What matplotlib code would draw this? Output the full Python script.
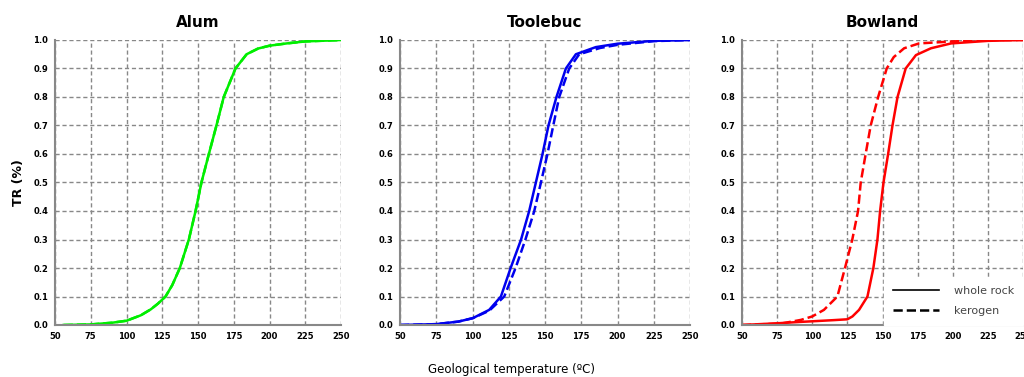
import matplotlib.pyplot as plt
from matplotlib.lines import Line2D

# Alum
alum_T = [56, 75, 90, 100, 110, 117, 122, 127.3, 132, 137.3, 143.6, 148.3, 152.4, 157.6, 162.9, 168, 176.2, 184, 192, 200, 212, 225, 240, 250]
alum_TR = [0.0, 0.002, 0.008, 0.015, 0.034, 0.055, 0.075, 0.1, 0.14, 0.2, 0.3, 0.4, 0.5, 0.6, 0.7, 0.8, 0.9, 0.95, 0.97, 0.98, 0.988, 0.995, 0.998, 1.0]

# Toolebuc
tool_wr_T = [50, 75, 90.3, 100.2, 111.5, 119.6, 126.3, 133.5, 139.1, 143.7, 148.3, 152.4, 157.9, 164.4, 171.3, 185, 200, 225, 250]
tool_wr_TR = [0.0, 0.003, 0.012, 0.024, 0.053, 0.1, 0.2, 0.3, 0.4, 0.5, 0.6, 0.7, 0.8, 0.9, 0.95, 0.975, 0.987, 0.997, 1.0]
tool_ker_T = [50, 75, 90.3, 100.2, 111.5, 121.9, 129.7, 136.5, 142.6, 147.2, 151.7, 155.7, 159.8, 166.7, 173.6, 188, 200, 225, 250]
tool_ker_TR = [0.0, 0.003, 0.012, 0.024, 0.05, 0.1, 0.2, 0.3, 0.4, 0.5, 0.6, 0.7, 0.8, 0.9, 0.95, 0.972, 0.983, 0.996, 1.0]

# Bowland
bow_wr_T = [50, 75, 92, 100, 115, 125, 128.6, 133.3, 139.3, 143.5, 146.4, 148.3, 150.7, 154, 157.1, 160.7, 166.5, 173.8, 184.5, 198.8, 225, 250]
bow_wr_TR = [0.0, 0.006, 0.011, 0.013, 0.017, 0.02, 0.03, 0.053, 0.1, 0.2, 0.3, 0.4, 0.5, 0.6, 0.7, 0.8, 0.9, 0.947, 0.971, 0.988, 0.997, 1.0]
bow_ker_T = [50, 77.8, 92, 100, 108.3, 117.9, 123.3, 128.5, 132.6, 134.5, 138, 141.6, 146.9, 153, 158, 165.4, 176, 200, 225, 250]
bow_ker_TR = [0.0, 0.005, 0.018, 0.03, 0.053, 0.1, 0.2, 0.3, 0.4, 0.5, 0.6, 0.7, 0.8, 0.9, 0.94, 0.971, 0.988, 0.995, 1.0, 1.0]

titles = ["Alum", "Toolebuc", "Bowland"]
xticks = [50, 75, 100, 125, 150, 175, 200, 225, 250]
yticks = [0.0, 0.1, 0.2, 0.3, 0.4, 0.5, 0.6, 0.7, 0.8, 0.9, 1.0]

fig = plt.figure(figsize=(10.24, 3.77), dpi=100)
W, H = 1024, 377
boxes = [(55, 341), (400, 690), (742, 1023)]
top, bottom = 40, 325
axes = []
for (l, r) in boxes:
    ax = fig.add_axes([l / W, 1 - bottom / H, (r - l) / W, (bottom - top) / H])
    axes.append(ax)

series = [
    [(alum_T, alum_TR, '#00EE00', '-'), (alum_T, alum_TR, '#00EE00', '--')],
    [(tool_wr_T, tool_wr_TR, '#0000EE', '-'), (tool_ker_T, tool_ker_TR, '#0000EE', '--')],
    [(bow_wr_T, bow_wr_TR, '#FF0000', '-'), (bow_ker_T, bow_ker_TR, '#FF0000', '--')],
]

for ax, title, ser in zip(axes, titles, series):
    for x, y, c, ls in ser:
        ax.plot(x, y, color=c, linestyle=ls, linewidth=1.8)
    ax.set_xlim(50, 250)
    ax.set_ylim(0, 1.0)
    ax.set_xticks(xticks)
    ax.set_yticks(yticks)
    ax.set_xticklabels([str(t) for t in xticks], fontsize=6, fontweight='bold')
    ax.set_yticklabels([f"{t:.1f}" for t in yticks], fontsize=6, fontweight='bold')
    ax.tick_params(length=0, pad=5)
    ax.grid(True, color='#888888', linestyle=(0, (3, 2)), linewidth=1.0)
    ax.set_axisbelow(True)
    for s in ['top', 'right']:
        ax.spines[s].set_visible(False)
    for s in ['left', 'bottom']:
        ax.spines[s].set_color('#888888')
        ax.spines[s].set_linewidth(1.5)
    ax.set_title(title, fontsize=11, fontweight='bold', pad=9)

axes[0].set_ylabel('TR (%)', fontsize=9, fontweight='bold', labelpad=6)
fig.text(512 / W, 1 - 370 / H, 'Geological temperature (ºC)', ha='center', va='center', fontsize=8.5)

handles = [Line2D([], [], color='black', linestyle='-', linewidth=1.2),
           Line2D([], [], color='black', linestyle='--', linewidth=1.8)]
leg = axes[2].legend(handles, ['whole rock', 'kerogen'], loc='lower right',
                     fontsize=8, frameon=True, fancybox=False, framealpha=1,
                     edgecolor='white', handlelength=4.2, handletextpad=1.3,
                     labelspacing=0.9, borderaxespad=0.0, borderpad=0.8)
for t in leg.get_texts():
    t.set_color('#444444')

fig.savefig('out.png', dpi=100)
